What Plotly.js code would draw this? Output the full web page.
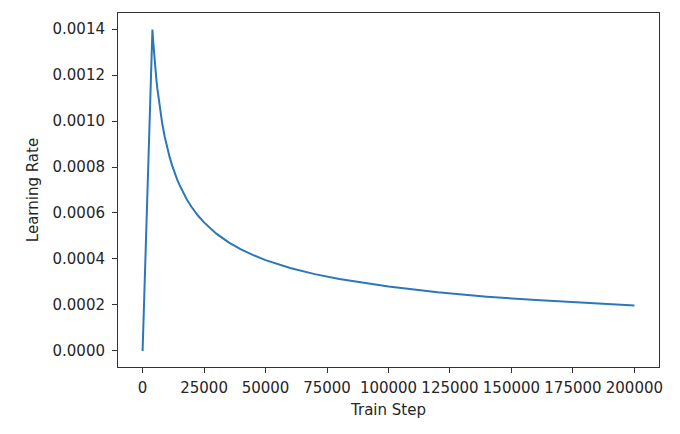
<!DOCTYPE html>
<html>
<head>
<meta charset="utf-8">
<script src="https://cdn.plot.ly/plotly-3.0.1.min.js"></script>
<style>html,body{margin:0;padding:0;background:#fff;}#chart{width:680px;height:434px;}</style>
</head>
<body>
<div id="chart"></div>
<script>
// Values
const trainStep = [0, 2000, 4000, 4250, 4500, 5000, 5500, 6000, 6500, 7000, 7500, 8000, 9000, 10000, 11000, 12000,
  13000, 14000, 15000, 16000, 18000, 20000, 22500, 25000, 27500, 30000, 35000, 40000, 45000, 50000,
  60000, 70000, 80000, 90000, 100000, 120000, 140000, 160000, 180000, 200000];
const learningRate = [0.0, 0.000699, 0.001398, 0.001356, 0.001318, 0.001250, 0.001192, 0.001141, 0.001096, 0.001056,
  0.001021, 0.000988, 0.000932, 0.000884, 0.000843, 0.000807, 0.000775, 0.000747, 0.000722, 0.000699,
  0.000659, 0.000625, 0.000589, 0.000559, 0.000533, 0.000510, 0.000472, 0.000442, 0.000417, 0.000395,
  0.000361, 0.000334, 0.000313, 0.000295, 0.000280, 0.000255, 0.000236, 0.000221, 0.000208, 0.000198];
const xTickVals = [0, 25000, 50000, 75000, 100000, 125000, 150000, 175000, 200000];
const yTickVals = [0, 0.0002, 0.0004, 0.0006, 0.0008, 0.0010, 0.0012, 0.0014];

const fontFam = 'DejaVu Sans, sans-serif';
Plotly.newPlot('chart', [{
  x: trainStep, y: learningRate, type: 'scatter', mode: 'lines',
  line: {color: '#2a78b8', width: 2}
}], {
  width: 680, height: 434,
  margin: {l: 118, r: 21, t: 13, b: 67},
  paper_bgcolor: '#fff', plot_bgcolor: '#fff',
  font: {family: fontFam, size: 15, color: '#262626'},
  showlegend: false,
  xaxis: {
    range: [-10000, 210000], tickvals: xTickVals, ticktext: xTickVals.map(String),
    showgrid: false, zeroline: false, showline: true, mirror: true, linecolor: '#333', linewidth: 1,
    ticks: 'outside', ticklen: 5, tickcolor: '#333', ticklabelstandoff: 2,
    title: {text: 'Train Step', standoff: 8, font: {size: 15}}
  },
  yaxis: {
    range: [-0.00007, 0.00147], tickvals: yTickVals, ticktext: yTickVals.map(v => v.toFixed(4)),
    showgrid: false, zeroline: false, showline: true, mirror: true, linecolor: '#333', linewidth: 1,
    ticks: 'outside', ticklen: 5, tickcolor: '#333', ticklabelstandoff: 4,
    title: {text: 'Learning Rate', standoff: 10, font: {size: 15}}
  }
}, {displayModeBar: false, staticPlot: true});
</script>
</body>
</html>
